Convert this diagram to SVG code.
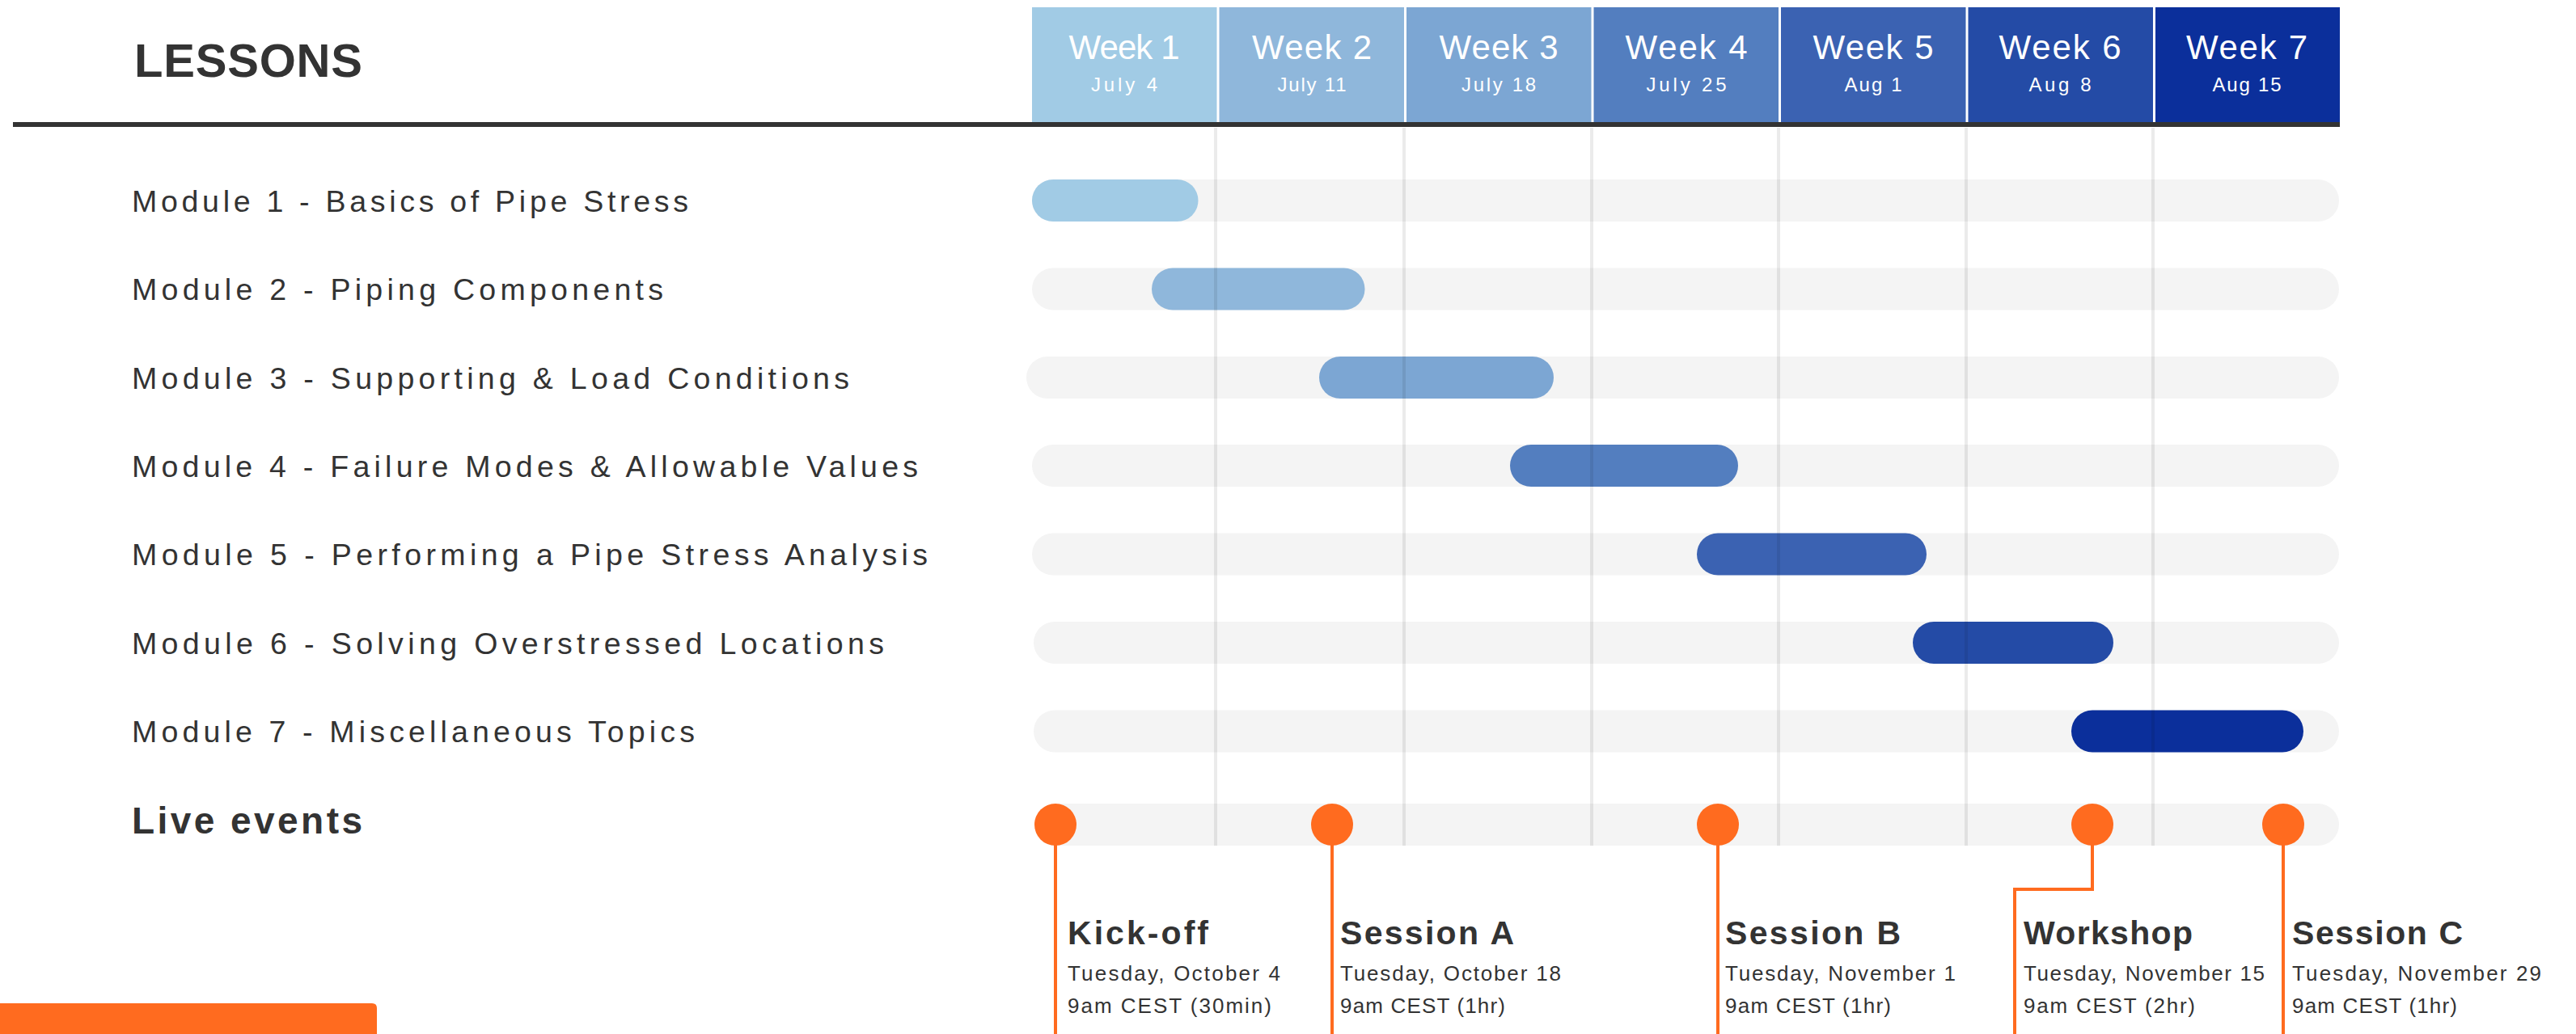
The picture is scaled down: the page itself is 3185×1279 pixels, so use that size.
<svg xmlns="http://www.w3.org/2000/svg" width="3185" height="1279" viewBox="0 0 3185 1279">
<style>
.lbl{font-family:"Liberation Sans",Arial,sans-serif;fill:#333333;}
.mod{font-size:37.5px;}
.wk{font-family:"Liberation Sans",Arial,sans-serif;fill:#ffffff;text-anchor:middle;font-size:42px;}
.dt{font-family:"Liberation Sans",Arial,sans-serif;fill:#ffffff;text-anchor:middle;font-size:24px;}
.b{font-weight:bold;}
.ev{font-size:41px;font-weight:bold;}
.sub{font-size:26px;}
.track{fill:#f4f4f4;}
.grid{stroke:#000000;stroke-opacity:0.08;stroke-width:4;}
.conn{stroke:#ff6b1f;stroke-width:4;fill:none;}
.dot{fill:#ff6b1f;}
</style>
<rect width="3185" height="1279" fill="#ffffff"/>

<g id="header">
  <text class="lbl b" x="166" y="95" font-size="58" textLength="282" lengthAdjust="spacing">LESSONS</text>
  <g id="week1"><rect x="1276" y="9" width="228.5" height="142" fill="#a1cbe5"/><text class="wk" x="1390" y="73" textLength="137" lengthAdjust="spacing">Week 1</text><text class="dt" x="1390" y="113" textLength="82" lengthAdjust="spacing">July 4</text></g>
  <g id="week2"><rect x="1507.5" y="9" width="228.5" height="142" fill="#8fb7db"/><text class="wk" x="1622" y="73" textLength="148" lengthAdjust="spacing">Week 2</text><text class="dt" x="1622" y="113" textLength="85" lengthAdjust="spacing">July 11</text></g>
  <g id="week3"><rect x="1739" y="9" width="228.5" height="142" fill="#7ca6d3"/><text class="wk" x="1853" y="73" textLength="147" lengthAdjust="spacing">Week 3</text><text class="dt" x="1853" y="113" textLength="92" lengthAdjust="spacing">July 18</text></g>
  <g id="week4"><rect x="1970.5" y="9" width="228.5" height="142" fill="#537ebf"/><text class="wk" x="2085" y="73" textLength="151" lengthAdjust="spacing">Week 4</text><text class="dt" x="2085" y="113" textLength="99" lengthAdjust="spacing">July 25</text></g>
  <g id="week5"><rect x="2202" y="9" width="228.5" height="142" fill="#3b62b2"/><text class="wk" x="2316" y="73" textLength="149" lengthAdjust="spacing">Week 5</text><text class="dt" x="2316" y="113" textLength="71" lengthAdjust="spacing">Aug 1</text></g>
  <g id="week6"><rect x="2433.5" y="9" width="228.5" height="142" fill="#244ba6"/><text class="wk" x="2547" y="73" textLength="151" lengthAdjust="spacing">Week 6</text><text class="dt" x="2547" y="113" textLength="77" lengthAdjust="spacing">Aug 8</text></g>
  <g id="week7"><rect x="2665" y="9" width="228" height="142" fill="#0b2f9b"/><text class="wk" x="2778" y="73" textLength="150" lengthAdjust="spacing">Week 7</text><text class="dt" x="2778" y="113" textLength="85" lengthAdjust="spacing">Aug 15</text></g>
  <rect x="16" y="151" width="2877" height="6" fill="#333333"/>
</g>

<g id="tracks">
  <rect class="track" x="1276" y="222" width="1616" height="52" rx="26"/>
  <rect class="track" x="1276" y="331.5" width="1616" height="52" rx="26"/>
  <rect class="track" x="1269" y="441" width="1623" height="52" rx="26"/>
  <rect class="track" x="1276" y="550" width="1616" height="52" rx="26"/>
  <rect class="track" x="1276" y="659.5" width="1616" height="52" rx="26"/>
  <rect class="track" x="1278" y="769" width="1614" height="52" rx="26"/>
  <rect class="track" x="1278" y="878.5" width="1614" height="52" rx="26"/>
  <rect class="track" x="1279" y="994" width="1613" height="52" rx="26"/>
</g>

<g id="module1"><text class="lbl mod" x="163" y="262" textLength="688" lengthAdjust="spacing">Module 1 - Basics of Pipe Stress</text><rect x="1276" y="222" width="205.5" height="52" rx="26" fill="#a1cbe5"/></g>
<g id="module2"><text class="lbl mod" x="163" y="371" textLength="657" lengthAdjust="spacing">Module 2 - Piping Components</text><rect x="1424" y="331.5" width="263.5" height="52" rx="26" fill="#8fb7db"/></g>
<g id="module3"><text class="lbl mod" x="163" y="480.5" textLength="887" lengthAdjust="spacing">Module 3 - Supporting &amp; Load Conditions</text><rect x="1631" y="441" width="290" height="52" rx="26" fill="#7ca6d3"/></g>
<g id="module4"><text class="lbl mod" x="163" y="589.5" textLength="972" lengthAdjust="spacing">Module 4 - Failure Modes &amp; Allowable Values</text><rect x="1867" y="550" width="282" height="52" rx="26" fill="#537ebf"/></g>
<g id="module5"><text class="lbl mod" x="163" y="699" textLength="984" lengthAdjust="spacing">Module 5 - Performing a Pipe Stress Analysis</text><rect x="2098" y="659.5" width="284" height="52" rx="26" fill="#3b62b2"/></g>
<g id="module6"><text class="lbl mod" x="163" y="808.5" textLength="930" lengthAdjust="spacing">Module 6 - Solving Overstressed Locations</text><rect x="2365" y="769" width="248" height="52" rx="26" fill="#244ba6"/></g>
<g id="module7"><text class="lbl mod" x="163" y="918" textLength="696" lengthAdjust="spacing">Module 7 - Miscellaneous Topics</text><rect x="2561" y="878.5" width="287" height="52" rx="26" fill="#0b2f9b"/></g>
<g id="live-events-label"><text class="lbl b" x="163" y="1031" font-size="46" textLength="285" lengthAdjust="spacing">Live events</text></g>

<g id="gridlines">
  <line class="grid" x1="1503" y1="158" x2="1503" y2="1046"/>
  <line class="grid" x1="1736" y1="158" x2="1736" y2="1046"/>
  <line class="grid" x1="1968" y1="158" x2="1968" y2="1046"/>
  <line class="grid" x1="2199" y1="158" x2="2199" y2="1046"/>
  <line class="grid" x1="2431" y1="158" x2="2431" y2="1046"/>
  <line class="grid" x1="2662" y1="158" x2="2662" y2="1046"/>
</g>

<g id="connectors">
  <line class="conn" x1="1305" y1="1040" x2="1305" y2="1279"/>
  <line class="conn" x1="1647" y1="1040" x2="1647" y2="1279"/>
  <line class="conn" x1="2124" y1="1040" x2="2124" y2="1279"/>
  <polyline class="conn" points="2587,1040 2587,1100 2491,1100 2491,1279"/>
  <line class="conn" x1="2823" y1="1040" x2="2823" y2="1279"/>
</g>

<g id="kickoff"><circle class="dot" cx="1305" cy="1020" r="26"/><text class="lbl ev" x="1320" y="1168" textLength="174" lengthAdjust="spacing">Kick-off</text><text class="lbl sub" x="1320" y="1213" textLength="263" lengthAdjust="spacing">Tuesday, October 4</text><text class="lbl sub" x="1320" y="1253" textLength="252" lengthAdjust="spacing">9am CEST (30min)</text></g>
<g id="sessionA"><circle class="dot" cx="1647" cy="1020" r="26"/><text class="lbl ev" x="1657" y="1168" textLength="215" lengthAdjust="spacing">Session A</text><text class="lbl sub" x="1657" y="1213" textLength="273" lengthAdjust="spacing">Tuesday, October 18</text><text class="lbl sub" x="1657" y="1253" textLength="204" lengthAdjust="spacing">9am CEST (1hr)</text></g>
<g id="sessionB"><circle class="dot" cx="2124" cy="1020" r="26"/><text class="lbl ev" x="2133" y="1168" textLength="217" lengthAdjust="spacing">Session B</text><text class="lbl sub" x="2133" y="1213" textLength="285" lengthAdjust="spacing">Tuesday, November 1</text><text class="lbl sub" x="2133" y="1253" textLength="205" lengthAdjust="spacing">9am CEST (1hr)</text></g>
<g id="workshop"><circle class="dot" cx="2587" cy="1020" r="26"/><text class="lbl ev" x="2502" y="1168" textLength="209" lengthAdjust="spacing">Workshop</text><text class="lbl sub" x="2502" y="1213" textLength="298" lengthAdjust="spacing">Tuesday, November 15</text><text class="lbl sub" x="2502" y="1253" textLength="212" lengthAdjust="spacing">9am CEST (2hr)</text></g>
<g id="sessionC"><circle class="dot" cx="2823" cy="1020" r="26"/><text class="lbl ev" x="2834" y="1168" textLength="211" lengthAdjust="spacing">Session C</text><text class="lbl sub" x="2834" y="1213" textLength="308" lengthAdjust="spacing">Tuesday, November 29</text><text class="lbl sub" x="2834" y="1253" textLength="204" lengthAdjust="spacing">9am CEST (1hr)</text></g>

<path id="footer-bar" d="M0,1241 H460 Q466,1241 466,1247 V1279 H0 Z" fill="#ff6b1f"/>
</svg>
